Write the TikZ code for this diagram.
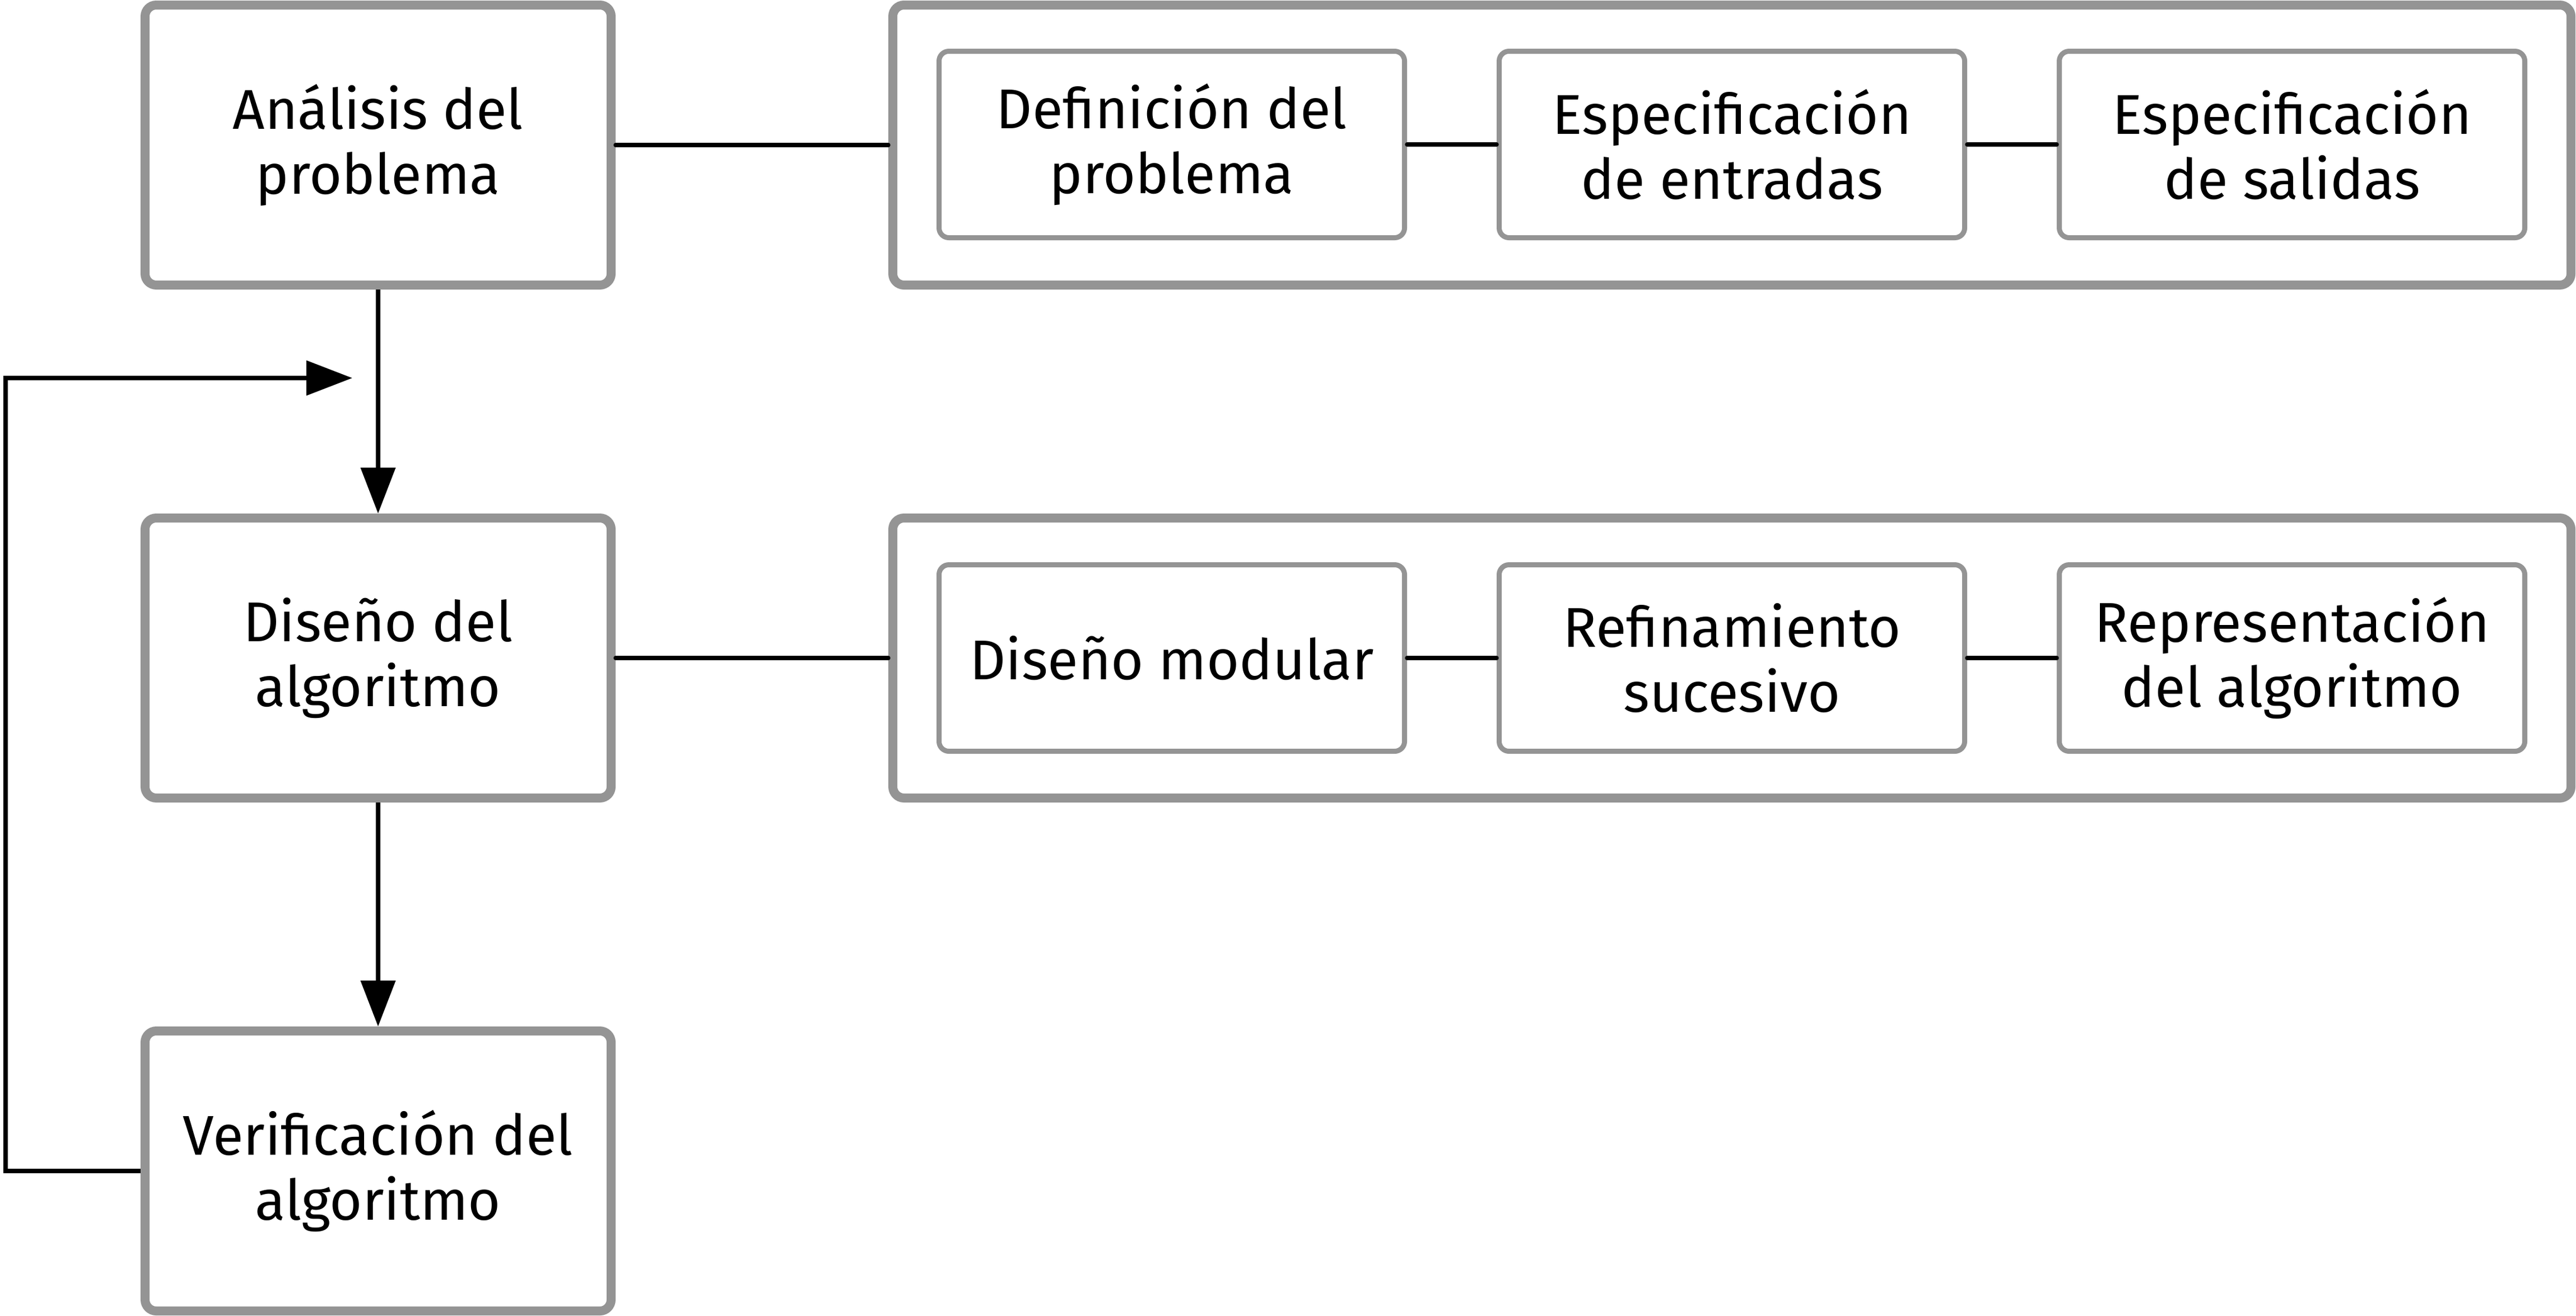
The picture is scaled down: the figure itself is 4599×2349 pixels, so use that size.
\documentclass[tikz,border=0pt]{standalone}
\usepackage{fontspec}
\setmainfont{Fira Sans}
\usetikzlibrary{arrows.meta}
\definecolor{boxgray}{RGB}{148,148,148}
\begin{document}
\begin{tikzpicture}[x=0.2pt,y=-0.2pt,
  boxfont/.style={font=\fontsize{20pt}{23.3pt}\selectfont},
  mainbox/.style={draw=boxgray, fill=white, line width=3.2pt, rounded corners=4pt,
    minimum width=166.4pt, minimum height=100pt, align=center, inner sep=0pt, boxfont},
  groupbox/.style={draw=boxgray, fill=white, line width=3.2pt, rounded corners=4pt,
    minimum width=599.2pt, minimum height=100pt, inner sep=0pt},
  subbox/.style={draw=boxgray, fill=white, line width=1.8pt, rounded corners=3.5pt,
    minimum width=166.2pt, minimum height=66.6pt, align=center, inner sep=0pt, boxfont},
  link/.style={line width=1.5pt, line cap=round},
  flow/.style={line width=1.5pt, -{Triangle[length=16.4pt,width=12.2pt]}}]
\useasboundingbox (0,0) rectangle (4599,2349);

% left column
\node[mainbox] (ana) at (675,259) {Análisis del\\problema};
\node[mainbox] (dis) at (675,1175) {Diseño del\\algoritmo};
\node[mainbox] (ver) at (675,2091) {Verificación del\\algoritmo};

% group boxes
\node[groupbox] (g1) at (3092,259) {};
\node[groupbox] (g2) at (3092,1175) {};

% row 1
\node[subbox] (def) at (2092,258) {Definición del\\problema};
\node[subbox] (ent) at (3092,258) {Especificación\\de entradas};
\node[subbox] (sal) at (4092,258) {Especificación\\de salidas};

% row 2
\node[subbox] (mod) at (2092,1175) {Diseño modular};
\node[subbox] (ref) at (3092,1175) {Refinamiento\\sucesivo};
\node[subbox] (rep) at (4092,1175) {Representación\\del algoritmo};

% connectors
\draw[link] (ana) -- (g1);
\draw[link] (dis) -- (g2);
\draw[link] (def) -- (ent);
\draw[link] (ent) -- (sal);
\draw[link] (mod) -- (ref);
\draw[link] (ref) -- (rep);

% flow arrows
\draw[flow] (ana) -- (dis);
\draw[flow] (dis) -- (ver);

% feedback
\coordinate (fbend) at (629,675);
\draw[flow] (ver.west) -- ++(-241,0) |- (fbend);
\end{tikzpicture}
\end{document}
